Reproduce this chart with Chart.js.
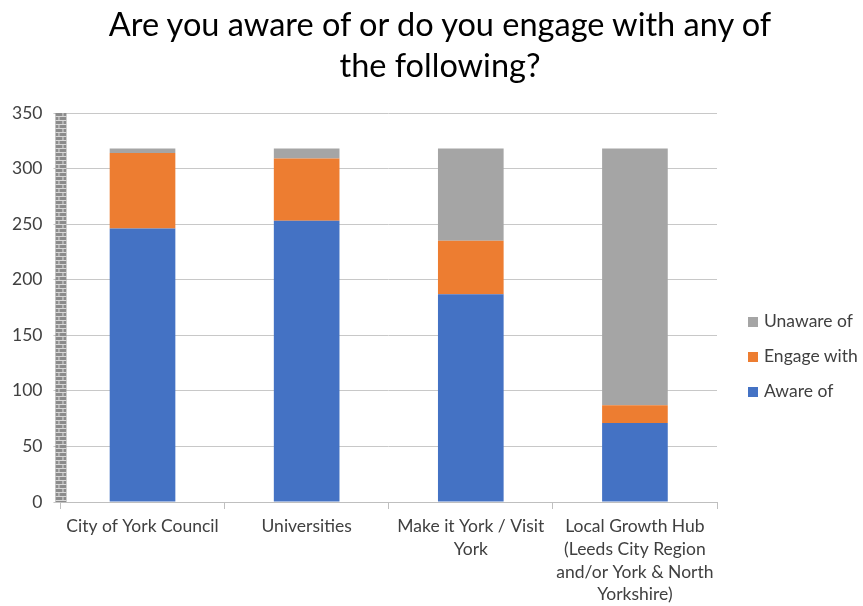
<!DOCTYPE html>
<html>
<head>
<meta charset="utf-8">
<script src="https://cdn.jsdelivr.net/npm/chart.js@4"></script>
<style>
  html, body { margin: 0; padding: 0; background: #fff; }
  #wrap { position: relative; width: 863px; height: 606px; }
  #title { position: absolute; left: 0; width: 880px; top: 3px; text-align: center; font: 32.5px Lato, "Noto Sans", sans-serif; line-height: 41px; color: #000; }
  #legend { position: absolute; left: 748px; top: 310px; font: 17.5px Lato, "Noto Sans", sans-serif; color: #404040; }
  #legend div { height: 35px; line-height: 22px; white-space: nowrap; }
  #legend span { display: inline-block; width: 10px; height: 10px; margin-right: 6px; vertical-align: 0px; }
</style>
</head>
<body>
<div id="wrap">
  <canvas id="chart"></canvas>
  <div id="title">Are you aware of or do you engage with any of<br>the following?</div>
  <div id="legend"></div>
</div>
<script>
// categories (x labels wrapped as in the original)
const categories = [
    ['City of York Council'],
    ['Universities'],
    ['Make it York / Visit', 'York'],
    ['Local Growth Hub', '(Leeds City Region', 'and/or York & North', 'Yorkshire)']
];

// series values
const awareOf = [246, 253, 187, 71];
const engageWith = [68, 56, 48, 16];
const unawareOf = [4, 9, 83, 231];

const FONT = 'Lato, "Noto Sans", sans-serif';

// hatched grey bar over the value axis, like in the original picture
const hatchedAxis = {
    id: 'hatchedAxis',
    afterDraw(chart) {
        const c = chart.ctx;
        const area = chart.chartArea;
        const x0 = area.left - 5, w = 11;
        c.save();
        c.fillStyle = '#8C8C8C';
        c.fillRect(x0, area.top, w, area.bottom - area.top);
        c.fillStyle = '#D9D9D9';
        let row = 0;
        for (let y = area.top + 3; y < area.bottom; y += 4) {
            c.fillRect(x0, y, w, 1);
            c.fillRect(x0 + (row % 2 ? 3 : 7), y - 3, 1, 3);
            row++;
        }
        c.restore();
    }
};

const ctx = document.getElementById('chart');

const chart = new Chart(ctx, {
    type: 'bar',
    data: {
        labels: categories,
        datasets: [
            { label: 'Aware of', data: awareOf, backgroundColor: '#4472C4' },
            { label: 'Engage with', data: engageWith, backgroundColor: '#ED7D31' },
            { label: 'Unaware of', data: unawareOf, backgroundColor: '#A5A5A5' }
        ]
    },
    plugins: [hatchedAxis],
    options: {
        responsive: true,
        maintainAspectRatio: false,
        animation: false,
        datasets: {
            bar: { barPercentage: 0.4, categoryPercentage: 1.0 }
        },
        layout: {
            padding: { left: 1, right: 146, top: 113, bottom: -6 }
        },
        plugins: {
            title: { display: false },
            legend: { display: false },
            tooltip: { enabled: false }
        },
        scales: {
            x: {
                stacked: true,
                grid: {
                    offset: true,
                    drawOnChartArea: false,
                    drawTicks: true,
                    tickLength: 7,
                    color: '#BFBFBF'
                },
                border: { display: true, color: '#BFBFBF', width: 1 },
                ticks: {
                    color: '#404040',
                    maxRotation: 0,
                    autoSkip: false,
                    font: { family: FONT, size: 17.5, lineHeight: 1.3 },
                    padding: 6
                }
            },
            y: {
                stacked: true,
                min: 0,
                max: 350,
                grid: {
                    color: '#C8C8C8',
                    lineWidth: 1,
                    drawTicks: true,
                    tickLength: 7
                },
                border: { display: false },
                ticks: {
                    stepSize: 50,
                    color: '#404040',
                    font: { family: FONT, size: 17.5 },
                    padding: 11
                }
            }
        }
    }
});

// legend in the original order: Unaware of on top
const legendBox = document.getElementById('legend');
chart.data.datasets.slice().reverse().forEach(ds => {
    const item = document.createElement('div');
    const sw = document.createElement('span');
    sw.style.background = ds.backgroundColor;
    item.appendChild(sw);
    item.appendChild(document.createTextNode(ds.label));
    legendBox.appendChild(item);
});
</script>
</body>
</html>
